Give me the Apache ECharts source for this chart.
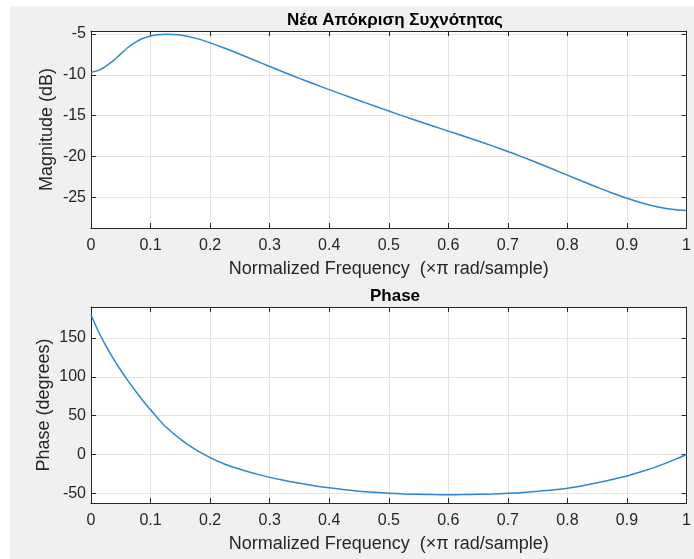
<!DOCTYPE html>
<html>
<head>
<meta charset="utf-8">
<script src="https://cdn.jsdelivr.net/npm/echarts@6/dist/echarts.min.js"></script>
<style>
html,body{margin:0;padding:0;background:#ffffff;}
#chart{width:694px;height:559px;}
</style>
</head>
<body>
<div id="chart"></div>
<script>
// Normalized frequency (x pi rad/sample)
var freq = [0, 0.0125, 0.025, 0.0375, 0.05, 0.0625, 0.075, 0.0875, 0.1, 0.1125, 0.125, 0.15, 0.175, 0.2, 0.225, 0.25, 0.275, 0.3, 0.325, 0.35, 0.375, 0.4, 0.425, 0.45, 0.475, 0.5, 0.525, 0.55, 0.575, 0.6, 0.625, 0.65, 0.675, 0.7, 0.725, 0.75, 0.775, 0.8, 0.825, 0.85, 0.875, 0.9, 0.925, 0.95, 0.975, 1.0];
// Magnitude (dB)
var magValues = [-9.68, -9.45, -8.93, -8.25, -7.43, -6.62, -5.98, -5.52, -5.25, -5.09, -5.02, -5.12, -5.5, -6.08, -6.75, -7.47, -8.22, -8.97, -9.71, -10.43, -11.13, -11.81, -12.48, -13.14, -13.79, -14.43, -15.06, -15.68, -16.29, -16.89, -17.49, -18.1, -18.73, -19.39, -20.08, -20.8, -21.54, -22.29, -23.04, -23.77, -24.47, -25.12, -25.69, -26.15, -26.47, -26.62];
// Phase (degrees)
var phaseValues = [180, 158.5, 140, 123.5, 108.5, 94.5, 81.5, 69, 57.5, 46.5, 36, 19.8, 6.5, -4, -12.5, -19, -24.5, -29.5, -33.5, -37, -40.2, -43, -45.3, -47.3, -48.8, -50, -50.8, -51.3, -51.65, -51.8, -51.7, -51.3, -50.8, -50, -48.9, -47.4, -45.7, -43.6, -40.2, -36.4, -32.2, -27.6, -22, -15.6, -8.3, 0];

var titleMag = 'Νέα Απόκριση Συχνότητας';
var titlePhase = 'Phase';
var xName = 'Normalized Frequency  (×π rad/sample)';
var yNameMag = 'Magnitude (dB)';
var yNamePhase = 'Phase (degrees)';

function pairs(xs, ys){ return xs.map(function(x,i){ return [x, ys[i]]; }); }

var FONT = 'Liberation Sans, Arial, sans-serif';
var AX = '#262626';
var GRIDC = '#e3e3e3';
var LINE = '#2e86d1';

function xAxisBottom(gi){
  return {
    type:'value', gridIndex:gi, min:0, max:1, interval:0.1, position:'bottom',
    name:xName, nameLocation:'middle', nameGap:32, nameMoveOverlap:false,
    nameTextStyle:{color:AX, fontSize:18, fontFamily:FONT},
    axisLine:{show:true, onZero:false, lineStyle:{color:AX, width:1}},
    axisTick:{show:true, inside:true, length:5, lineStyle:{color:AX}},
    axisLabel:{color:AX, fontSize:16, fontFamily:FONT, margin:10},
    splitLine:{show:true, lineStyle:{color:GRIDC, width:1}}
  };
}
function xAxisTop(gi){
  return {
    type:'value', gridIndex:gi, min:0, max:1, interval:0.1, position:'top',
    axisLine:{show:true, onZero:false, lineStyle:{color:AX, width:1}},
    axisTick:{show:true, inside:true, length:5, lineStyle:{color:AX}},
    axisLabel:{show:false}, splitLine:{show:false}
  };
}
function yAxisLeft(gi, min, max, name, gap){
  return {
    type:'value', gridIndex:gi, min:min, max:max, splitNumber:5, position:'left',
    name:name, nameLocation:'middle', nameGap:gap, nameMoveOverlap:false,
    nameTextStyle:{color:AX, fontSize:18, fontFamily:FONT},
    axisLine:{show:true, onZero:false, lineStyle:{color:AX, width:1}},
    axisTick:{show:true, inside:true, length:5, lineStyle:{color:AX}},
    axisLabel:{color:AX, fontSize:16, fontFamily:FONT, margin:5, showMinLabel:false, showMaxLabel:false},
    splitLine:{show:true, lineStyle:{color:GRIDC, width:1}}
  };
}
function yAxisRight(gi, min, max){
  return {
    type:'value', gridIndex:gi, min:min, max:max, splitNumber:5, position:'right',
    axisLine:{show:true, onZero:false, lineStyle:{color:AX, width:1}},
    axisTick:{show:true, inside:true, length:5, lineStyle:{color:AX}},
    axisLabel:{show:false}, splitLine:{show:false}
  };
}

var chart = echarts.init(document.getElementById('chart'), null, {renderer:'canvas'});
chart.setOption({
  animation:false,
  backgroundColor:'#ffffff',
  graphic:[{type:'rect', z:-10, silent:true, shape:{x:10, y:6, width:684, height:553}, style:{fill:'#f0f0f0'}}],
  title:[
    {text:titleMag, left:390, top:7, textAlign:'center', textStyle:{fontSize:17, fontWeight:'bold', color:'#000', fontFamily:FONT}},
    {text:titlePhase, left:390, top:283, textAlign:'center', textStyle:{fontSize:17, fontWeight:'bold', color:'#000', fontFamily:FONT}}
  ],
  grid:[
    {left:91, top:31, width:598, height:197, show:true, backgroundColor:'#ffffff', borderWidth:0},
    {left:91, top:307, width:598, height:196, show:true, backgroundColor:'#ffffff', borderWidth:0}
  ],
  xAxis:[xAxisBottom(0), xAxisTop(0), xAxisBottom(1), xAxisTop(1)],
  yAxis:[
    yAxisLeft(0, -28.76, -4.63, yNameMag, 35),
    yAxisRight(0, -28.76, -4.63),
    yAxisLeft(1, -62.5, 190, yNamePhase, 38),
    yAxisRight(1, -62.5, 190)
  ],
  series:[
    {type:'line', xAxisIndex:0, yAxisIndex:0, data:pairs(freq, magValues), smooth:0.4, showSymbol:false, lineStyle:{color:LINE, width:1.5}},
    {type:'line', xAxisIndex:2, yAxisIndex:2, data:pairs(freq, phaseValues), smooth:0.4, showSymbol:false, lineStyle:{color:LINE, width:1.5}}
  ]
});
</script>
</body>
</html>
